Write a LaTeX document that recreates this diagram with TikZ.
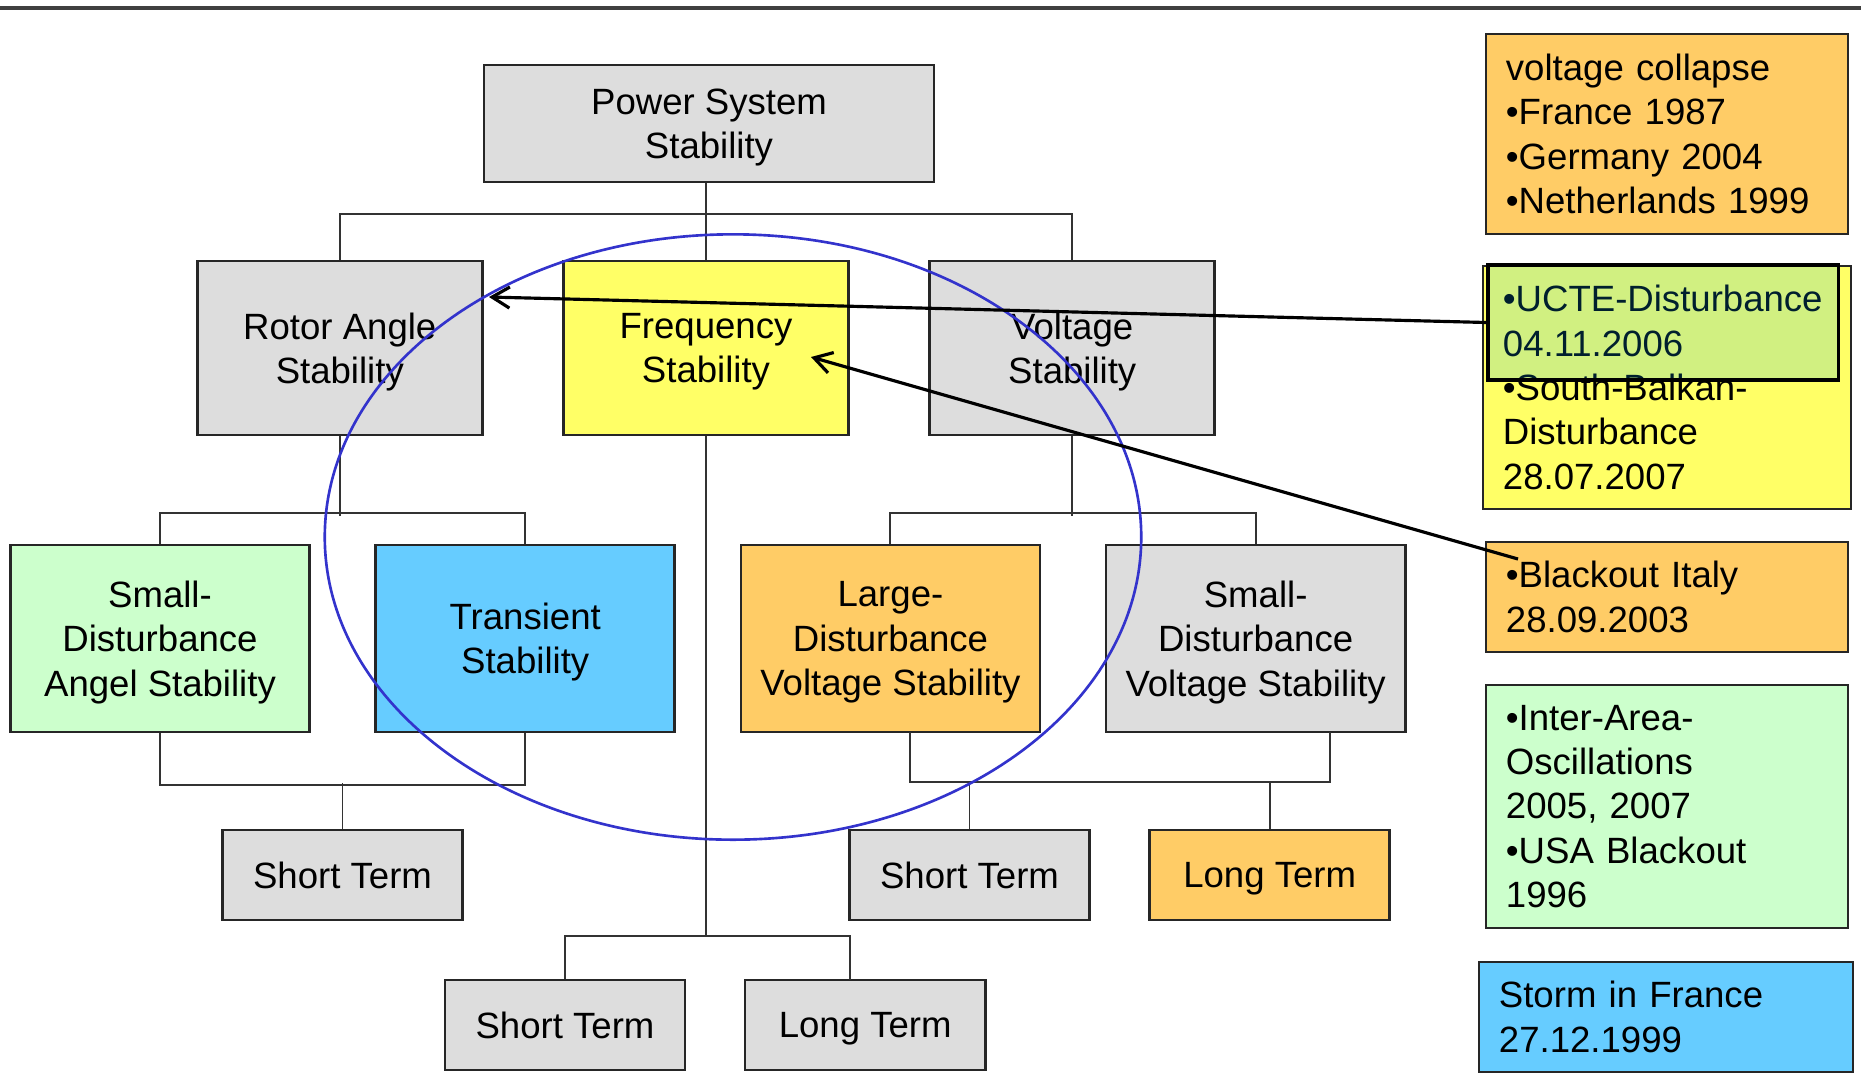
\documentclass[tikz,border=0pt]{standalone}
\usepackage{fontspec}
\setmainfont{Liberation Sans}
\usetikzlibrary{positioning, arrows.meta}

\definecolor{boxgray}{RGB}{221,221,221}
\definecolor{freqyellow}{RGB}{255,255,102}
\definecolor{evorange}{RGB}{255,204,102}
\definecolor{evgreen}{RGB}{204,255,204}
\definecolor{evblue}{RGB}{102,204,255}
\definecolor{ringblue}{RGB}{51,51,204}
\definecolor{uctecyan}{RGB}{0,175,255}

\begin{document}
\begin{tikzpicture}
	[x=0.01cm, y=-0.01cm, on grid,
	 font=\fontsize{10.4}{12.6}\selectfont,
	 >={Straight Barb[length=5pt,width=6pt]},
	 box/.style={draw=black!85, line width=0.75pt, fill=boxgray, align=center, inner sep=0pt},
	 treebox/.style={box, text depth=0pt},
	 rootbox/.style={treebox, minimum width=4.5cm, minimum height=1.17cm},
	 classbox/.style={treebox, minimum width=2.85cm, minimum height=1.74cm},
	 subbox/.style={treebox, minimum width=2.99cm, minimum height=1.87cm},
	 termbox/.style={treebox, minimum width=2.4cm, minimum height=0.9cm},
	 notebox/.style={box, align=left, inner xsep=0.2cm, text width=3.22cm, minimum height=1.1cm},
	 branch/.style={draw=black!80, line width=0.55pt}]
   \useasboundingbox (0,0) rectangle (1861,1078);
   \draw[black!75, line width=0.9pt] (0,8) -- (1861,8);

   % stability tree
   \node[rootbox] (pss) at (709,123.5) {Power System\\Stability};
   \node[classbox, fill=freqyellow] (freq) at (706,348) {Frequency\\Stability};
   \node[classbox] (rotor) [left=3.66cm of freq] {Rotor Angle\\Stability};
   \node[classbox] (volt) [right=3.66cm of freq] {Voltage\\Stability};

   \node[subbox, fill=evgreen] (sdangle) at (160,638.5) {Small-\\Disturbance\\Angel Stability};
   \node[subbox, fill=evblue] (trans) [right=3.65cm of sdangle] {Transient\\Stability};
   \node[subbox, fill=evorange] (ldvolt) [right=3.65cm of trans] {Large-\\Disturbance\\Voltage Stability};
   \node[subbox] (sdvolt) [right=3.65cm of ldvolt] {Small-\\Disturbance\\Voltage Stability};

   \node[termbox] (angshort) at (342.5,875) {Short Term};
   \node[termbox] (voltshort) at (969.5,875) {Short Term};
   \node[termbox, fill=evorange] (voltlong) [right=3cm of voltshort] {Long Term};
   \node[termbox] (freqshort) at (565,1025) {Short Term};
   \node[termbox] (freqlong) [right=3cm of freqshort] {Long Term};

   \coordinate (ldout) at (910,732);
   \coordinate (sdout) at (1330,732);
   \coordinate (flongin) at (850,980);

   \draw[branch] (pss.south -| freq) -- (freq);
   \draw[branch] (rotor.north) -- ++(0,-46) -| (volt.north);
   \draw[branch] (rotor.south) -- ++(0,80);
   \draw[branch] (sdangle.north) -- ++(0,-31) -| (trans.north);
   \draw[branch] (volt.south) -- ++(0,80);
   \draw[branch] (ldvolt.north) -- ++(0,-31) -| (sdvolt.north);
   \draw[branch] (sdangle.south) -- ++(0,52) -| (trans.south);
   \draw[branch] (angshort.north) -- ++(0,-46);
   \draw[branch] (ldout) -- ++(0,50) -| (sdout);
   \draw[branch] (voltshort.north) -- ++(0,-48);
   \draw[branch] (voltlong.north) -- ++(0,-48);
   \draw[branch] (freq.south) -- ++(0,500) coordinate (fjoin);
   \draw[branch] (freqshort.north) |- (fjoin) -| (flongin);

   % events
   \node[notebox, fill=evorange, minimum height=2cm] (collapse) at (1667,134)
      {voltage collapse\\•France 1987\\•Germany 2004\\•Netherlands 1999};
   \node[notebox, fill=freqyellow, text width=3.28cm, minimum height=2.43cm] (balkan) at (1667,387.5)
      {•UCTE-Disturbance\\04.11.2006\\•South-Balkan-\\Disturbance\\28.07.2007};
   \node[draw=black, line width=0.9pt, fill=uctecyan, fill opacity=0.18,
      minimum width=3.5cm, minimum height=1.15cm] (ucte) at (1663,322.5) {};
   \node[notebox, fill=evorange] (italy) at (1667,597) {•Blackout Italy\\28.09.2003};
   \node[notebox, fill=evgreen, minimum height=2.43cm] (oscill) at (1667,806.5)
      {•Inter-Area-\\Oscillations\\2005, 2007\\•USA Blackout\\1996};
   \node[notebox, fill=evblue, text width=3.34cm] (storm) at (1666,1017) {Storm in France\\27.12.1999};

   \draw[ringblue, line width=0.75pt] (733,537) ellipse [x radius=4.08cm, y radius=3.025cm];

   \coordinate (rotorhit) at (489,297);
   \coordinate (freqhit) at (811,357);
   \coordinate (italyfoot) at (1518,559);
   \draw[->, line width=0.9pt] (ucte.west) -- (rotorhit);
   \draw[->, line width=0.9pt] (italyfoot) -- (freqhit);

\end{tikzpicture}
\end{document}
